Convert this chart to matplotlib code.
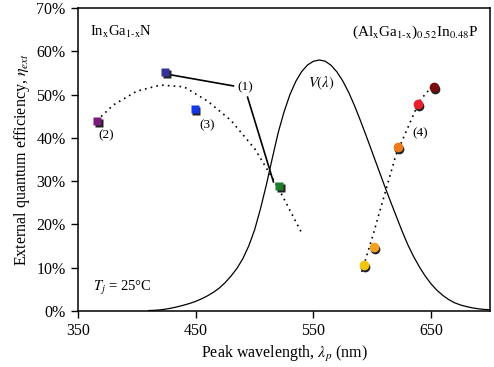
import numpy as np
import matplotlib.pyplot as plt
import matplotlib.transforms as mtransforms

plt.rcParams["font.family"] = ["Liberation Serif", "DejaVu Serif"]
plt.rcParams["mathtext.fontset"] = "stix"

# InGaN LEDs (squares)
ingan_wl = [366, 424, 449, 521]
ingan_eqe = [43.9, 55.2, 46.6, 28.9]
ingan_col = ["#7a1a7e", "#33339a", "#1536e6", "#1d7d2a"]

# AlGaInP LEDs (circles)
algainp_wl = [592.5, 601, 621.5, 638.5, 652]
algainp_eqe = [10.6, 14.8, 37.9, 47.8, 51.7]
algainp_col = ["#f2c40c", "#f5a022", "#ec7a1a", "#e8202c", "#7a0c10"]

# dotted trend lines
ingan_fit_wl = [366, 380, 400, 420, 440, 460, 480, 500, 520, 540]
ingan_fit_eqe = [44.0, 47.6, 50.8, 52.2, 51.8, 48.5, 44.0, 37.5, 28.5, 18.0]
algainp_fit_wl = [591, 600, 620, 640, 651]
algainp_fit_eqe = [9.0, 17.0, 36.0, 48.5, 52.0]

# CIE photopic V(lambda), 5 nm steps, scaled to ~58% peak
v_wl = np.arange(410, 701, 5)
v_val = np.array([
    0.0012, 0.00218, 0.004, 0.0073, 0.0116, 0.01684, 0.023, 0.0298, 0.038, 0.048,
    0.06, 0.0739, 0.09098, 0.1126, 0.13902, 0.1693, 0.20802, 0.2586, 0.323, 0.4073,
    0.503, 0.6082, 0.71, 0.7932, 0.862, 0.91485, 0.954, 0.9803, 0.99495, 1.0,
    0.995, 0.9786, 0.952, 0.9154, 0.87, 0.8163, 0.757, 0.6949, 0.631, 0.5668,
    0.503, 0.4412, 0.381, 0.321, 0.265, 0.217, 0.175, 0.1382, 0.107, 0.0816,
    0.061, 0.04458, 0.032, 0.0232, 0.017, 0.01192, 0.00821, 0.005723, 0.004102])
v_scale = 58.0

fig = plt.figure(figsize=(4.94, 3.67), dpi=100)
ax = fig.add_axes([0.158, 0.153, 0.834, 0.825])

ax.plot(v_wl, v_val * v_scale, color="black", lw=0.9)
ax.plot(ingan_fit_wl, ingan_fit_eqe, color="black", lw=1.2, ls=(0, (1, 2.5)))
ax.plot(algainp_fit_wl, algainp_fit_eqe, color="black", lw=1.2, ls=(0, (1, 2.5)))

# label (1) pointer lines
ax.plot([428, 482], [54.6, 52.0], color="black", lw=1.2)
ax.plot([494, 516], [49.4, 29.8], color="black", lw=1.2)

shadow = mtransforms.offset_copy(ax.transData, fig=fig, x=1.2, y=-1.2, units="points")
for x, y, c in zip(ingan_wl, ingan_eqe, ingan_col):
    ax.plot(x, y, "s", ms=6.3, color="#202020", mec="none", transform=shadow)
    ax.plot(x, y, "s", ms=6.3, color=c, mec="none")
for x, y, c in zip(algainp_wl, algainp_eqe, algainp_col):
    ax.plot(x, y, "o", ms=7, color="#202020", mec="none", transform=shadow)
    ax.plot(x, y, "o", ms=7, color=c, mec="none")

fs = 9.5
ax.text(367, 40.5, "(2)", fontsize=fs, ha="left", va="center")
ax.text(453, 43.0, "(3)", fontsize=fs, ha="left", va="center")
ax.text(485, 51.8, "(1)", fontsize=fs, ha="left", va="center")
ax.text(634, 41.0, "(4)", fontsize=fs, ha="left", va="center")
ax.text(545, 52.5, r"$\mathit{V(\lambda)}$", fontsize=fs + 1, ha="left", va="center")
ax.text(360, 64.5, r"In$_{\mathrm{x}}$Ga$_{\mathrm{1\text{-}x}}$N", fontsize=fs + 1,
        ha="left", va="center")
ax.text(690, 64.5, r"(Al$_{\mathrm{x}}$Ga$_{\mathrm{1\text{-}x}}$)$_{0.52}$In$_{0.48}$P",
        fontsize=fs + 1.5, ha="right", va="center")
ax.text(363, 5.3, r"$T_j$ = 25°C", fontsize=fs + 1, ha="left", va="center")

ax.set_xlim(350, 700)
ax.set_ylim(0, 70)
ax.set_xticks([350, 450, 550, 650])
ax.set_yticks(np.arange(0, 71, 10))
ax.set_yticklabels([f"{v}%" for v in range(0, 71, 10)])
ax.tick_params(direction="out", length=5, width=1, labelsize=11.5, pad=4)
for s in ax.spines.values():
    s.set_linewidth(1.1)
ax.set_xlabel(r"Peak wavelength, $\lambda_p$ (nm)", fontsize=11.5, labelpad=3)
ax.set_ylabel(r"External quantum efficiency, $\eta_{ext}$", fontsize=11.5, labelpad=3)

fig.savefig("out.png", dpi=100)
